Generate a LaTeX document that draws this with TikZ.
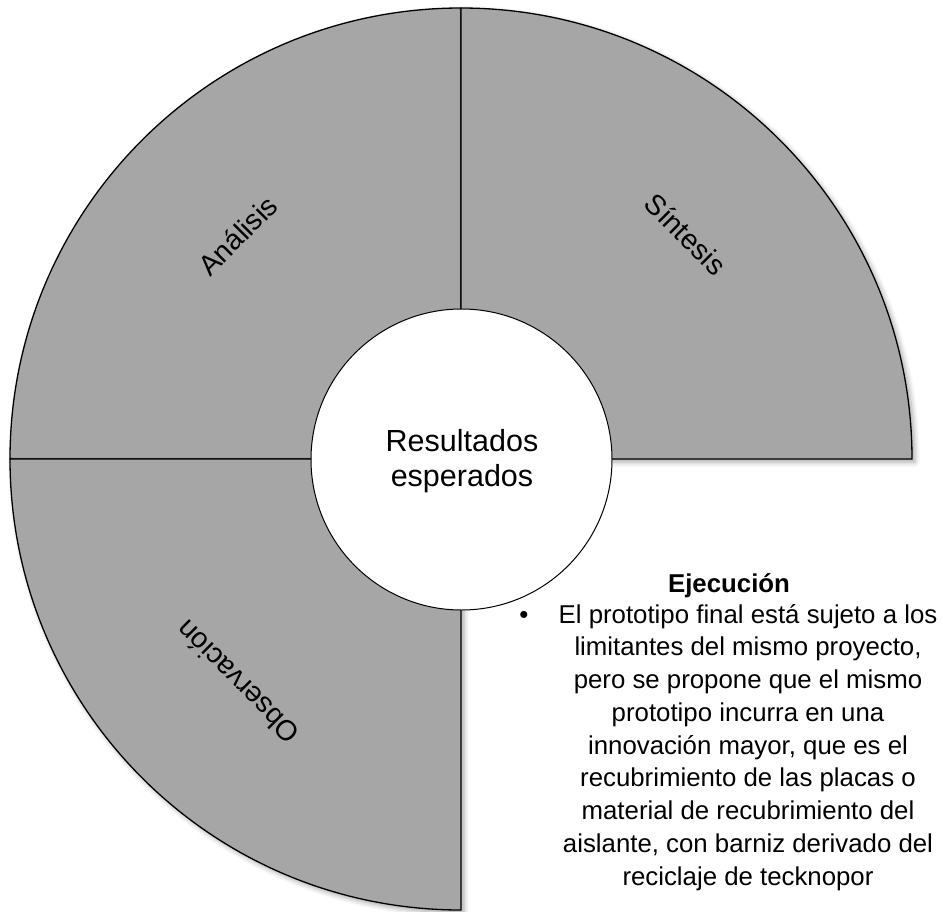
\documentclass[tikz,border=0pt]{standalone}
\usepackage{fontspec}
\setmainfont{Liberation Sans}
\usetikzlibrary{shadows.blur}
\definecolor{sectorgray}{HTML}{A6A6A6}
\begin{document}
\begin{tikzpicture}[x=1pt,y=-1pt,
  sector/.style={fill=sectorgray, draw=black, line width=1.3pt, line join=round},
  softshadow/.style={blur shadow={shadow xshift=3pt, shadow yshift=-3pt,
      shadow blur radius=5pt, shadow opacity=35}},
  sectorlabel/.style={font=\fontsize{28.5}{32}\selectfont, inner sep=0pt},
  bodyline/.style={font=\fontsize{25.8}{32.75}\selectfont, anchor=base, inner sep=0pt}]
\useasboundingbox (0,0) rectangle (943,911);
\coordinate (c) at (461,459);

% three quarter sectors of the outer disc
\draw[sector, softshadow] (c) -- ++(-90:451)
  arc[start angle=-90, end angle=-180, radius=451] -- cycle;
\draw[sector, softshadow] (c) -- ++(-90:451)
  arc[start angle=-90, end angle=0, radius=451] -- cycle;
\draw[sector, softshadow] (c) -- ++(180:451)
  arc[start angle=180, end angle=90, radius=451] -- cycle;

% sector labels, rotated along the diagonals
\node[sectorlabel, rotate=45]  (analisis) at ($(c)+(-135:316)$) {Análisis};
\node[sectorlabel, rotate=-45] (sintesis) at ($(c)+(-45:318)$)  {Síntesis};
\node[sectorlabel, rotate=135] (observ)   at ($(c)+(135:316)$)  {Observación};

% central disc
\node[circle, draw=black, fill=white, line width=1pt, minimum size=301pt,
      inner sep=0pt] (core) at (461.5,459.5) {};
\node[font=\fontsize{30.5}{35}\selectfont, align=center, inner sep=0pt]
  (coretext) at (462,461.5) {Resultados\\esperados};

% description of the execution stage
\node[font=\bfseries\fontsize{25.8}{30}\selectfont, anchor=base, inner sep=0pt]
  (head) at (729,592) {Ejecución};
\node[bodyline] (bullet) at (524,623) {\textbullet};
\foreach \txt [count=\i] in {
    {El prototipo final está sujeto a los},
    {limitantes del mismo proyecto,},
    {pero se propone que el mismo},
    {prototipo incurra en una},
    {innovación mayor, que es el},
    {recubrimiento de las placas o},
    {material de recubrimiento del},
    {aislante, con barniz derivado del},
    {reciclaje de tecknopor}}
  \node[bodyline] (line\i) at (748,{623+32.75*(\i-1)}) {\txt};
\end{tikzpicture}
\end{document}
